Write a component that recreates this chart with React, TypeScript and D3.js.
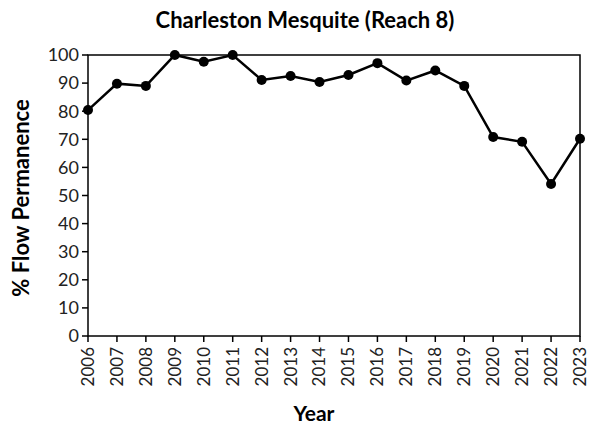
import React from "react";
import * as d3 from "d3";

const years = [2006, 2007, 2008, 2009, 2010, 2011, 2012, 2013, 2014, 2015, 2016, 2017, 2018, 2019, 2020, 2021, 2022, 2023];
const flow = [80.4, 89.8, 89.0, 100, 97.6, 100, 91.1, 92.5, 90.4, 92.9, 97.1, 90.9, 94.5, 89.0, 70.8, 69.1, 54.1, 70.2];
const yTicks = [0, 10, 20, 30, 40, 50, 60, 70, 80, 90, 100];
const title = "Charleston Mesquite (Reach 8)";
const xTitle = "Year";
const yTitle = "% Flow Permanence";

const W = 589, H = 430;
const M = { left: 88, right: 9, top: 55, bottom: 94 };
const FONT = "Lato, 'Open Sans', sans-serif";

export default function App() {
  const x = d3.scaleLinear().domain([years[0], years[years.length - 1]]).range([M.left, W - M.right]);
  const y = d3.scaleLinear().domain([0, 100]).range([H - M.bottom, M.top]);
  const line = d3.line<number>().x((_, i) => x(years[i])).y((d) => y(d));
  const x0 = M.left, x1 = W - M.right, y0 = H - M.bottom, y1 = M.top;
  return (
    <svg width={W} height={H} style={{ position: "absolute", left: 0, top: 0, background: "#fff" }} fontFamily={FONT}>
      <rect x={0} y={0} width={W} height={H} fill="#fff" />
      <text x={305} y={28} textAnchor="middle" fontSize={22} fontWeight="bold" fill="#000">{title}</text>
      <rect x={x0} y={y1} width={x1 - x0} height={y0 - y1} fill="none" stroke="#000" strokeWidth={1.5} />
      {yTicks.map((t) => (
        <g key={t}>
          <line x1={x0 - 6} x2={x0} y1={y(t)} y2={y(t)} stroke="#000" strokeWidth={1.5} />
          <text x={x0 - 9} y={y(t)} dy="0.35em" textAnchor="end" fontSize={18} fill="#222">{t}</text>
        </g>
      ))}
      {years.map((yr) => (
        <g key={yr}>
          <line x1={x(yr)} x2={x(yr)} y1={y0} y2={y0 + 6} stroke="#000" strokeWidth={1.5} />
          <text transform={`translate(${x(yr)},${y0 + 11}) rotate(-90)`} dy="0.35em" textAnchor="end" fontSize={17} fill="#222">{yr}</text>
        </g>
      ))}
      <text x={314} y={421} textAnchor="middle" fontSize={21} fontWeight="bold" fill="#000">{xTitle}</text>
      <text transform={`translate(29,198) rotate(-90)`} textAnchor="middle" fontSize={22} fontWeight="bold" fill="#000">{yTitle}</text>
      <path d={line(flow) || ""} fill="none" stroke="#000" strokeWidth={2.5} />
      {flow.map((v, i) => (
        <circle key={i} cx={x(years[i])} cy={y(v)} r={5} fill="#000" />
      ))}
    </svg>
  );
}
